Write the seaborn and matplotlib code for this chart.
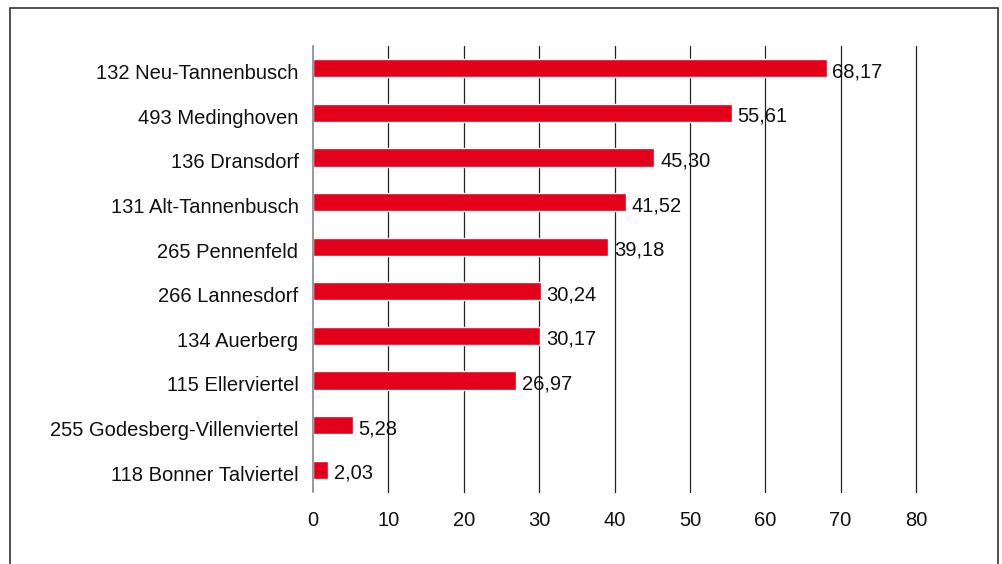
import matplotlib
matplotlib.use("Agg")
import matplotlib.pyplot as plt
import matplotlib.transforms as mtransforms
import seaborn as sns
import pandas as pd
from matplotlib.patches import Rectangle

districts = [
    "132 Neu-Tannenbusch",
    "493 Medinghoven",
    "136 Dransdorf",
    "131 Alt-Tannenbusch",
    "265 Pennenfeld",
    "266 Lannesdorf",
    "134 Auerberg",
    "115 Ellerviertel",
    "255 Godesberg-Villenviertel",
    "118 Bonner Talviertel",
]
values = [68.17, 55.61, 45.30, 41.52, 39.18, 30.24, 30.17, 26.97, 5.28, 2.03]
x_ticks = [0, 10, 20, 30, 40, 50, 60, 70, 80]

df = pd.DataFrame({"district": districts, "value": values})

sns.set_theme(style="white")
plt.rcParams["font.family"] = ["Liberation Sans", "DejaVu Sans"]

fig = plt.figure(figsize=(10.03, 5.64), dpi=100)
W, H = 1003, 564
ax = fig.add_axes([313 / W, 1 - 492 / H, (916 - 313) / W, (492 - 46) / H])

sns.barplot(data=df, x="value", y="district", orient="h", color="#E2001A",
            width=0.41, saturation=1, ax=ax, zorder=3)

ax.set_xlim(0, 80)
ax.set_ylim(len(districts) - 0.5, -0.5)
ax.set_xticks(x_ticks)
ax.set_xticklabels([str(t) for t in x_ticks])
for t in x_ticks[1:]:
    ax.axvline(t, color="#222222", lw=0.9, zorder=1, clip_on=False)

for s in ["top", "right", "bottom"]:
    ax.spines[s].set_visible(False)
ax.spines["left"].set_color("#888888")
ax.spines["left"].set_linewidth(1.2)
ax.spines["left"].set_zorder(4)

ax.tick_params(axis="both", length=0, labelsize=14.5, colors="#111111")
ax.tick_params(axis="x", pad=13.5)
ax.tick_params(axis="y", pad=10.5)
ax.set_xlabel("")
ax.set_ylabel("")

# nudge category labels slightly downward
shift = mtransforms.ScaledTranslation(0, -2.5 / 72, fig.dpi_scale_trans)
for lbl in ax.get_yticklabels():
    lbl.set_transform(lbl.get_transform() + shift)

for i, v in enumerate(values):
    ax.annotate(f"{v:.2f}".replace(".", ","), xy=(v, i), xytext=(4, -2.5),
                textcoords="offset points", va="center", ha="left",
                fontsize=14.5, color="#111111", zorder=5)

fig.patches.append(Rectangle((10 / W, -0.05), (998 - 10) / W, 1 - 8 / H + 0.05,
                             transform=fig.transFigure, fill=False,
                             edgecolor="#333333", lw=1.2))

fig.savefig("out.png", dpi=100)
